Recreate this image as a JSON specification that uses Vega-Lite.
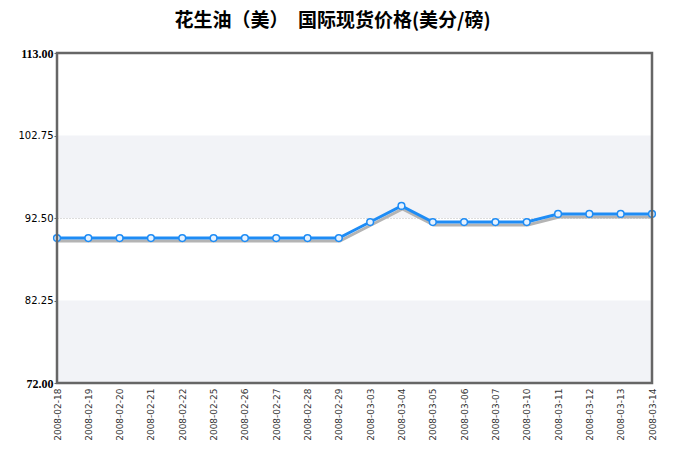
{
  "$schema": "https://vega.github.io/schema/vega-lite/v6.json",
  "width": 595,
  "height": 330,
  "autosize": {"type": "none"},
  "padding": {"left": 57, "top": 53, "right": 24, "bottom": 66},
  "background": "white",
  "title": {
    "text": "花生油（美）　国际现货价格(美分/磅)",
    "font": "Noto Sans CJK SC",
    "fontSize": 19,
    "fontWeight": "bold",
    "color": "#000000",
    "anchor": "middle",
    "dx": -22,
    "offset": 16
  },
  "datasets": {
    "prices": [
      {"date": "2008-02-18", "price": 90},
      {"date": "2008-02-19", "price": 90},
      {"date": "2008-02-20", "price": 90},
      {"date": "2008-02-21", "price": 90},
      {"date": "2008-02-22", "price": 90},
      {"date": "2008-02-25", "price": 90},
      {"date": "2008-02-26", "price": 90},
      {"date": "2008-02-27", "price": 90},
      {"date": "2008-02-28", "price": 90},
      {"date": "2008-02-29", "price": 90},
      {"date": "2008-03-03", "price": 92},
      {"date": "2008-03-04", "price": 94},
      {"date": "2008-03-05", "price": 92},
      {"date": "2008-03-06", "price": 92},
      {"date": "2008-03-07", "price": 92},
      {"date": "2008-03-10", "price": 92},
      {"date": "2008-03-11", "price": 93},
      {"date": "2008-03-12", "price": 93},
      {"date": "2008-03-13", "price": 93},
      {"date": "2008-03-14", "price": 93}
    ],
    "bands": [
      {"lo": 72, "hi": 82.25},
      {"lo": 92.5, "hi": 102.75}
    ],
    "frame": [
      {"lo": 72, "hi": 113}
    ]
  },
  "layer": [
    {
      "data": {"name": "bands"},
      "mark": {"type": "rect", "color": "#f2f3f7"},
      "encoding": {
        "y": {"field": "lo", "type": "quantitative", "scale": {"domain": [72, 113], "nice": false, "zero": false}, "title": null},
        "y2": {"field": "hi"}
      }
    },
    {
      "data": {"name": "prices"},
      "mark": {"type": "line", "color": "#b4b4b4", "strokeWidth": 3, "xOffset": 1, "yOffset": 3},
      "encoding": {
        "x": {"field": "date", "type": "ordinal", "scale": {"type": "point", "padding": 0}, "title": null},
        "y": {"field": "price", "type": "quantitative", "title": null}
      }
    },
    {
      "data": {"name": "prices"},
      "mark": {"type": "line", "color": "#1E8CF5", "strokeWidth": 3},
      "encoding": {
        "x": {"field": "date", "type": "ordinal", "scale": {"type": "point", "padding": 0}, "title": null,
          "axis": {"labelAngle": 270, "labelFont": "DejaVu Sans", "labelFontSize": 9, "labelColor": "#333333", "ticks": false, "domain": false, "labelPadding": 5, "grid": false}},
        "y": {"field": "price", "type": "quantitative", "title": null,
          "axis": {"values": [72, 82.25, 92.5, 102.75, 113], "format": ".2f", "domain": false, "ticks": true, "tickSize": 3, "tickColor": "#666666",
            "labelFontSize": {"condition": {"test": "datum.value == 113 || datum.value == 72", "value": 12}, "value": 10},
            "labelFont": {"condition": {"test": "datum.value == 113 || datum.value == 72", "value": "Liberation Serif"}, "value": "DejaVu Sans"},
            "labelFontWeight": {"condition": {"test": "datum.value == 113 || datum.value == 72", "value": "bold"}, "value": "normal"},
            "labelColor": "#000000", "labelPadding": 1,
            "grid": true, "gridColor": "#bbbbbb", "gridDash": [1, 2], "gridWidth": 1}}
      }
    },
    {
      "data": {"name": "prices"},
      "mark": {"type": "point", "shape": "circle", "filled": true, "fill": "#e6f2ff", "stroke": "#1E8CF5", "strokeWidth": 1.5, "size": 45, "opacity": 1},
      "encoding": {
        "x": {"field": "date", "type": "ordinal", "scale": {"type": "point", "padding": 0}, "title": null},
        "y": {"field": "price", "type": "quantitative", "title": null}
      }
    },
    {
      "data": {"name": "frame"},
      "mark": {"type": "rect", "fill": null, "fillOpacity": 0, "stroke": "#666666", "strokeWidth": 2.5},
      "encoding": {
        "y": {"field": "lo", "type": "quantitative", "title": null},
        "y2": {"field": "hi"}
      }
    }
  ],
  "config": {
    "view": {"stroke": null},
    "axis": {"labelOverlap": false}
  }
}
